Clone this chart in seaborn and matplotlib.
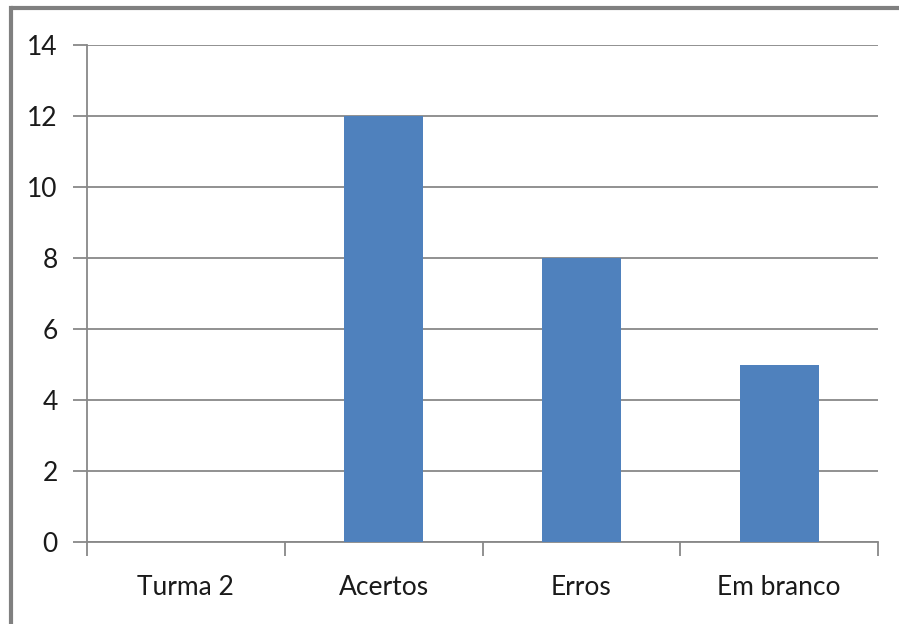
import matplotlib
matplotlib.use("Agg")
import matplotlib.pyplot as plt
from matplotlib.lines import Line2D
from matplotlib.ticker import FixedLocator
import seaborn as sns
import pandas as pd

categories = ["Turma 2", "Acertos", "Erros", "Em branco"]
values = [0, 12, 8, 5]
y_ticks = [0, 2, 4, 6, 8, 10, 12, 14]

sns.set_style("white")
plt.rcParams["font.family"] = ["Lato", "DejaVu Sans"]

df = pd.DataFrame({"categoria": categories, "valor": values})

fig = plt.figure(figsize=(8.99, 6.24), dpi=100)
ax = fig.add_axes([87 / 899, 1 - 542 / 624, (878 - 87) / 899, (542 - 45) / 624])

sns.barplot(data=df, x="categoria", y="valor", color="#4F81BD", width=0.4,
            saturation=1, linewidth=0, ax=ax, zorder=3)

grid_c = "#888888"
ax.set_ylim(0, 14)
ax.set_xlim(-0.5, len(categories) - 0.5)
ax.set_yticks(y_ticks)
ax.set_yticklabels([str(v) for v in y_ticks])
ax.yaxis.grid(True, color=grid_c, linewidth=1.3, zorder=0)
ax.set_axisbelow(True)
ax.set_xlabel("")
ax.set_ylabel("")

for side in ["top", "right"]:
    ax.spines[side].set_visible(False)
for side in ["left", "bottom"]:
    ax.spines[side].set_color(grid_c)
    ax.spines[side].set_linewidth(1.3)

ax.tick_params(axis="y", which="major", left=True, length=10, width=1.3,
               color=grid_c, pad=11, labelsize=19, labelcolor="#1a1a1a")
ax.tick_params(axis="x", which="major", bottom=False, pad=20, labelsize=19,
               labelcolor="#1a1a1a")
ax.xaxis.set_minor_locator(FixedLocator([i - 0.5 for i in range(len(categories) + 1)]))
ax.tick_params(axis="x", which="minor", bottom=True, length=10, width=1.3,
               color=grid_c)

# chart frame along top and left edges
x0, y0 = 10.5 / 899, 1 - 8 / 624
fig.lines.append(Line2D([x0, 1.0], [y0, y0], transform=fig.transFigure,
                        color="#808080", linewidth=3, solid_capstyle="butt"))
fig.lines.append(Line2D([x0, x0], [0.0, y0], transform=fig.transFigure,
                        color="#808080", linewidth=3, solid_capstyle="projecting"))

fig.savefig("out.png", dpi=100)
